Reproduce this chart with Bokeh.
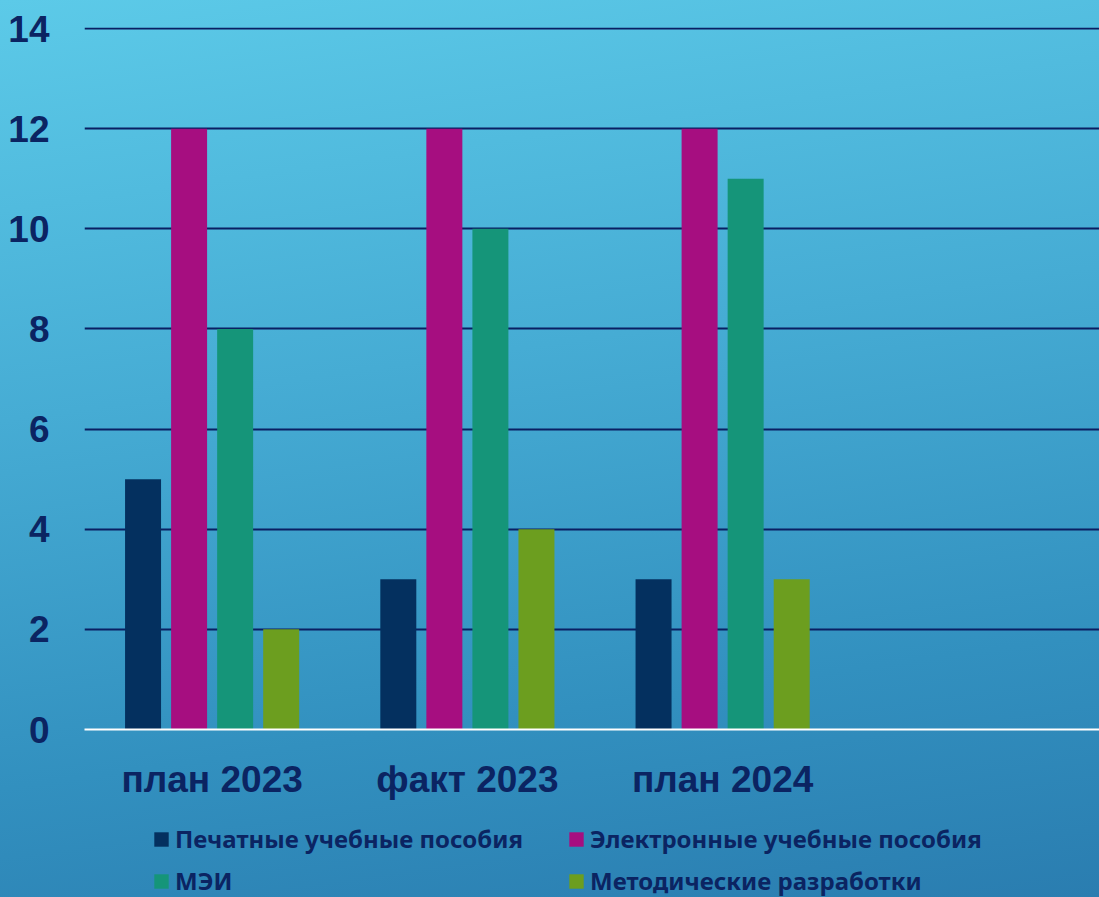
import numpy as np
from bokeh.plotting import figure
from bokeh.layouts import column
from bokeh.models import Range1d, FixedTicker, Legend, LegendItem, ColumnDataSource
from bokeh.transform import dodge
from bokeh.embed import file_html
from bokeh.resources import INLINE

categories = ["план 2023", "факт 2023", "план 2024"]
series_names = ["Печатные учебные пособия", "Электронные учебные пособия",
                "МЭИ", "Методические разработки"]
printed = [5, 3, 3]
electronic = [12, 12, 12]
mei = [8, 10, 11]
methodical = [2, 4, 3]
y_ticks = [0, 2, 4, 6, 8, 10, 12, 14]

colors = ["#04305f", "#a60e80", "#159579", "#6c9e1f"]
text_color = "#0b2462"

src = ColumnDataSource(dict(x=list(range(len(categories))),
                            printed=printed, electronic=electronic,
                            mei=mei, methodical=methodical))

p = figure(width=1099, height=805, output_backend="svg", toolbar_location=None,
           x_range=Range1d(-0.5, 3.4765), y_range=Range1d(0, 14.02),
           min_border_left=84, min_border_right=0, min_border_top=27,
           min_border_bottom=76)
p.background_fill_alpha = 0
p.border_fill_alpha = 0
p.outline_line_color = None

fields = ["printed", "electronic", "mei", "methodical"]
offsets = [-0.2706, -0.0902, 0.0902, 0.2706]
for f, off, c in zip(fields, offsets, colors):
    p.vbar(x=dodge("x", off), top=f, width=0.141, source=src,
           fill_color=c, line_color=None)

p.xgrid.visible = False
p.ygrid.ticker = FixedTicker(ticks=y_ticks)
p.ygrid.grid_line_color = "#0a1f62"
p.ygrid.grid_line_width = 2

xa = p.xaxis[0]
xa.ticker = FixedTicker(ticks=list(range(len(categories))))
xa.major_label_overrides = {i: c for i, c in enumerate(categories)}
xa.axis_line_color = "white"
xa.axis_line_width = 2
xa.major_tick_line_color = None
xa.minor_tick_line_color = None
xa.major_label_text_font = "Liberation Sans"
xa.major_label_text_font_style = "bold"
xa.major_label_text_font_size = "37px"
xa.major_label_text_color = text_color
xa.major_label_standoff = 23

ya = p.yaxis[0]
ya.ticker = FixedTicker(ticks=y_ticks)
ya.axis_line_color = None
ya.major_tick_line_color = None
ya.minor_tick_line_color = None
ya.major_label_text_font = "Liberation Sans"
ya.major_label_text_font_style = "bold"
ya.major_label_text_font_size = "37px"
ya.major_label_text_color = text_color
ya.major_label_standoff = 29

# legend strip below the chart
p2 = figure(width=1099, height=92, output_backend="svg", toolbar_location=None,
            x_range=Range1d(0, 1), y_range=Range1d(0, 1),
            x_axis_location=None, y_axis_location=None,
            min_border_left=0, min_border_right=0, min_border_top=0,
            min_border_bottom=0)
p2.grid.visible = False
p2.background_fill_alpha = 0
p2.border_fill_alpha = 0
p2.outline_line_color = None

dummy = ColumnDataSource(dict(x=[float("nan")], top=[float("nan")]))
leg_renderers = [p2.vbar(x="x", top="top", width=0.1, source=dummy,
                         fill_color=c, line_color=None) for c in colors]


def make_legend(idx, y):
    its = [LegendItem(label=series_names[i], renderers=[leg_renderers[i]]) for i in idx]
    return Legend(items=its, orientation="horizontal",
                  location=(68, y), margin=0, padding=0, spacing=14,
                  glyph_width=18, glyph_height=18, label_standoff=5,
                  label_width=378, label_height=24,
                  label_text_font="Noto Sans", label_text_font_style="bold",
                  label_text_font_size="24px", label_text_color=text_color,
                  background_fill_alpha=0, border_line_color=None)


p2.add_layout(make_legend([0, 1], 42), "center")
p2.add_layout(make_legend([2, 3], 0), "center")

layout = column(p, p2, spacing=0)
layout.styles = {"background": "linear-gradient(172deg, #5ccae8 0%, #46acd4 40%, #3290bf 75%, #2a7db0 100%)"}

open("out.html", "w").write(file_html(layout, INLINE))
